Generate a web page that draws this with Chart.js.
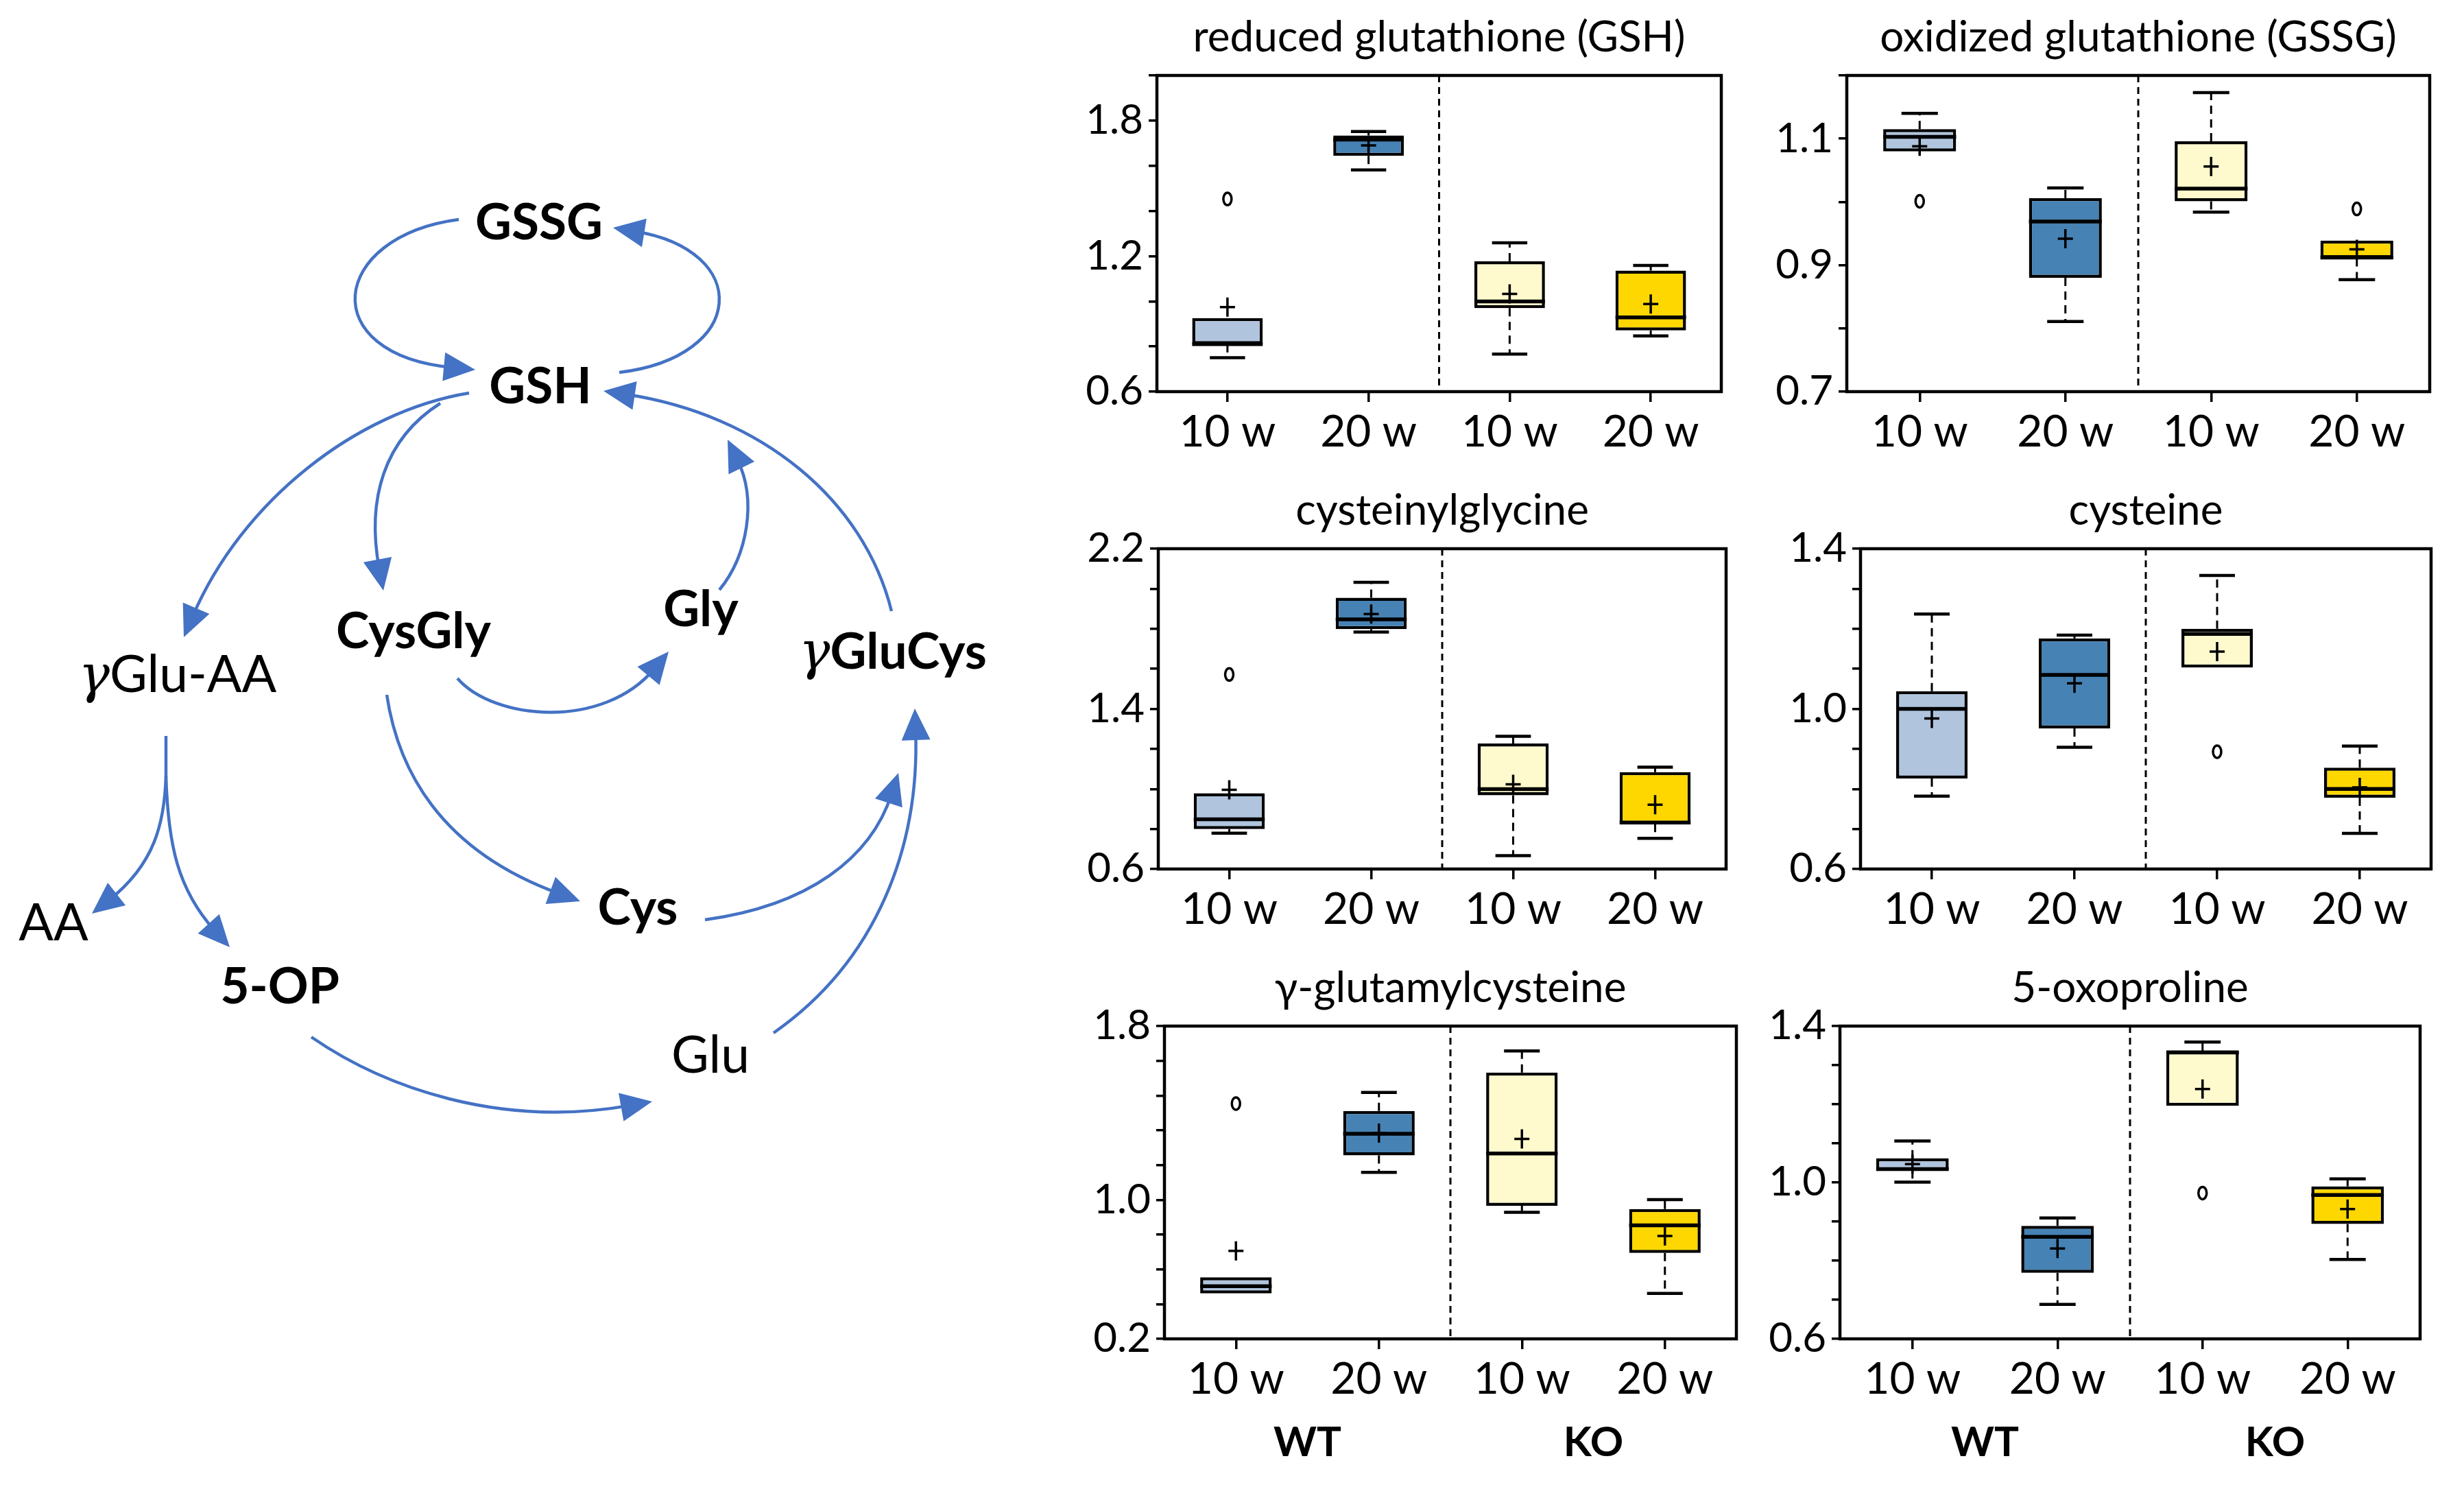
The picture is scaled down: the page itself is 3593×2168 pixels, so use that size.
<!DOCTYPE html>
<html>
<head>
<meta charset="utf-8">
<script src="https://cdn.jsdelivr.net/npm/chart.js@4.4.1/dist/chart.umd.min.js"></script>
<style>
  html, body { margin: 0; padding: 0; background: #fff; }
  body { width: 3593px; height: 2168px; position: relative; overflow: hidden; }
  canvas { position: absolute; }
</style>
</head>
<body>
<canvas id="pathway"></canvas>
<canvas id="gsh"></canvas>
<canvas id="gssg"></canvas>
<canvas id="cysgly"></canvas>
<canvas id="cys"></canvas>
<canvas id="ggc"></canvas>
<canvas id="oxo"></canvas>
<script>
// groups on the x axis
const weeks = ["10 w", "20 w", "10 w", "20 w"];
const genotypes = ["WT", "KO"];
const boxColors = ["#B0C4DE", "#4682B4", "#FFFACD", "#FFD700"];

// box stats per group: [min, q1, median, q3, max]
const gshBox = [[0.75, 0.81, 0.81, 0.926, 0.926], [1.582, 1.644, 1.716, 1.734, 1.752], [0.766, 0.97, 0.999, 1.177, 1.259], [0.847, 0.871, 0.929, 1.136, 1.159]];
const gshMean = [0.974, 1.69, 1.033, 0.988];
const gshOutliers = [[1.453], [], [], []];
const gshTicks = ["0.6", "", "", "1.2", "", "", "1.8", ""];

const gssgBox = [[1.08, 1.08, 1.103, 1.115, 1.14], [0.811, 0.88, 0.969, 1.006, 1.022], [0.984, 1.001, 1.021, 1.096, 1.173], [0.877, 0.911, 0.912, 0.939, 0.939]];
const gssgMean = [1.088, 0.942, 1.056, 0.925];
const gssgOutliers = [[1.001], [], [], [0.989]];
const gssgTicks = ["0.7", "", "0.9", "", "1.1", ""];

const cysglyBox = [[0.779, 0.8, 0.848, 0.979, 0.979], [1.784, 1.798, 1.847, 1.955, 2.032], [0.667, 0.968, 0.999, 1.227, 1.263], [0.753, 0.825, 0.832, 1.084, 1.109]];
const cysglyMean = [0.996, 1.874, 1.023, 0.921];
const cysglyOutliers = [[1.572], [], [], []];
const cysglyTicks = ["0.6", "", "", "", "1.4", "", "", "", "2.2"];

const cysBox = [[0.782, 0.826, 1.0, 1.044, 1.237], [0.904, 0.951, 1.085, 1.176, 1.184], [1.103, 1.103, 1.187, 1.2, 1.333], [0.689, 0.778, 0.8, 0.853, 0.907]];
const cysMean = [0.976, 1.064, 1.143, 0.804];
const cysOutliers = [[], [], [0.893], []];
const cysTicks = ["0.6", "", "", "", "1.0", "", "", "", "1.4"];

const ggcBox = [[0.462, 0.462, 0.503, 0.554, 0.554], [1.158, 1.256, 1.38, 1.512, 1.618], [0.928, 0.966, 1.267, 1.733, 1.857], [0.462, 0.694, 0.853, 0.947, 1.001]];
const ggcMean = [0.706, 1.384, 1.351, 0.792];
const ggcOutliers = [[1.554], [], [], []];
const ggcTicks = ["0.2", "", "", "", "1.0", "", "", "", "", "1.8"];

const oxoBox = [[1.001, 1.031, 1.034, 1.062, 1.106], [0.688, 0.769, 0.861, 0.889, 0.909], [1.196, 1.196, 1.333, 1.335, 1.359], [0.803, 0.894, 0.968, 0.99, 1.009]];
const oxoMean = [1.047, 0.831, 1.239, 0.932];
const oxoOutliers = [[], [], [0.973], []];
const oxoTicks = ["0.6", "", "", "", "1.0", "", "", "", "1.4"];

// pathway diagram nodes (diagram units = px)
const nodeNames = ["GSSG", "GSH", "γGlu-AA", "CysGly", "Gly", "γGluCys", "AA", "5-OP", "Cys", "Glu"];
const nodeX = [786, 788, 259, 603, 1022, 1302, 78, 408, 930, 1036];
const nodeY = [325, 564, 985, 921, 889, 951, 1347, 1439, 1324, 1540];
const nodeBold = [true, true, false, true, true, true, false, true, true, false];
// arrows: start, control 1, control 2, end (tip)
const arrows = [
  [669, 320, 480, 345, 490, 520, 693, 539],
  [903, 543, 1090, 520, 1065, 360, 894, 332],
  [684, 573, 520, 600, 340, 760, 268, 929],
  [642, 588, 560, 640, 540, 760, 559, 861],
  [1049, 860, 1090, 810, 1090, 700, 1061, 641],
  [1300, 891, 1260, 730, 1080, 600, 880, 570],
  [667, 989, 720, 1050, 900, 1040, 975, 950],
  [242, 1131, 240, 1200, 200, 1280, 134, 1332],
  [242, 1131, 245, 1230, 280, 1320, 335, 1381],
  [564, 1013, 580, 1120, 670, 1250, 846, 1314],
  [1028, 1341, 1180, 1320, 1280, 1220, 1310, 1127],
  [1128, 1506, 1280, 1400, 1340, 1200, 1334, 1033],
  [454, 1512, 560, 1585, 760, 1640, 951, 1606]
];
const stems = [[242, 1073, 242, 1131]];

const ARROW_BLUE = "#4472C4";

// ---------- pathway ----------
const pathwayPlugin = {
  id: "pathway",
  afterDatasetsDraw(chart) {
    const { ctx, scales: { x, y } } = chart;
    const px = v => x.getPixelForValue(v);
    const py = v => y.getPixelForValue(v);
    ctx.save();
    ctx.strokeStyle = ARROW_BLUE;
    ctx.fillStyle = ARROW_BLUE;
    ctx.lineWidth = 4.5;
    stems.forEach(s => {
      ctx.beginPath();
      ctx.moveTo(px(s[0]), py(s[1]));
      ctx.lineTo(px(s[2]), py(s[3]));
      ctx.stroke();
    });
    arrows.forEach(a => {
      const [x0, y0, c1x, c1y, c2x, c2y, x1, y1] = a.map((v, i) => i % 2 ? py(v) : px(v));
      const ang = Math.atan2(y1 - c2y, x1 - c2x);
      const len = 46, half = 21;
      const bx = x1 - Math.cos(ang) * len * 0.7, by = y1 - Math.sin(ang) * len * 0.7;
      ctx.beginPath();
      ctx.moveTo(x0, y0);
      ctx.bezierCurveTo(c1x, c1y, c2x + (bx - x1), c2y + (by - y1), bx, by);
      ctx.stroke();
      const baseX = x1 - Math.cos(ang) * len, baseY = y1 - Math.sin(ang) * len;
      ctx.beginPath();
      ctx.moveTo(x1, y1);
      ctx.lineTo(baseX + Math.sin(ang) * half, baseY - Math.cos(ang) * half);
      ctx.lineTo(baseX - Math.sin(ang) * half, baseY + Math.cos(ang) * half);
      ctx.closePath();
      ctx.fill();
    });
    ctx.fillStyle = "#000";
    ctx.textBaseline = "middle";
    nodeNames.forEach((name, i) => {
      const font = (nodeBold[i] ? "bold 73px" : "75px") + " Lato";
      const cx = px(nodeX[i]), cy = py(nodeY[i]);
      if (name.startsWith("γ")) {
        const rest = name.slice(1);
        ctx.font = "italic 76px 'DejaVu Serif'";
        const gw = ctx.measureText("γ").width;
        ctx.font = font;
        const rw = ctx.measureText(rest).width;
        const left = cx - (gw + rw) / 2;
        ctx.textAlign = "left";
        ctx.font = "italic 76px 'DejaVu Serif'";
        ctx.fillText("γ", left, cy + 4);
        ctx.font = font;
        ctx.fillText(rest, left + gw, cy);
      } else {
        ctx.textAlign = "center";
        ctx.font = font;
        ctx.fillText(name, cx, cy);
      }
    });
    ctx.restore();
  }
};

const pw = document.getElementById("pathway");
pw.width = 1530; pw.height = 2168;
pw.style.left = "0px"; pw.style.top = "0px";
new Chart(pw, {
  type: "scatter",
  data: { datasets: [{ data: nodeX.map((v, i) => ({ x: v, y: nodeY[i] })), pointRadius: 0 }] },
  options: {
    responsive: false, animation: false, devicePixelRatio: 1,
    layout: { padding: 0 },
    plugins: { legend: { display: false }, tooltip: { enabled: false } },
    scales: {
      x: { type: "linear", min: 0, max: 1530, display: false },
      y: { type: "linear", min: 0, max: 2168, reverse: true, display: false }
    }
  },
  plugins: [pathwayPlugin]
});

// ---------- box plots ----------
const boxPlugin = {
  id: "boxExtras",
  beforeDatasetsDraw(chart, args, opts) {
    const { ctx, scales: { y } } = chart;
    const bars = chart.getDatasetMeta(0).data;
    ctx.save();
    ctx.strokeStyle = "#000";
    bars.forEach((bar, i) => {
      const [lo, q1, , q3, hi] = opts.box[i];
      const capW = bar.width * 0.25;
      [[q3, hi], [q1, lo]].forEach(([from, to]) => {
        if (Math.abs(to - from) < 1e-9) return;
        ctx.lineWidth = 3;
        ctx.setLineDash([12, 8]);
        ctx.beginPath();
        ctx.moveTo(bar.x, y.getPixelForValue(from));
        ctx.lineTo(bar.x, y.getPixelForValue(to));
        ctx.stroke();
        ctx.setLineDash([]);
        ctx.lineWidth = 4.5;
        ctx.beginPath();
        ctx.moveTo(bar.x - capW, y.getPixelForValue(to));
        ctx.lineTo(bar.x + capW, y.getPixelForValue(to));
        ctx.stroke();
      });
    });
    ctx.restore();
  },
  afterDatasetsDraw(chart, args, opts) {
    const { ctx, chartArea: ca, scales: { x, y } } = chart;
    const bars = chart.getDatasetMeta(0).data;
    ctx.save();
    ctx.strokeStyle = "#000";
    bars.forEach((bar, i) => {
      const med = opts.box[i][2];
      const my = y.getPixelForValue(med);
      ctx.lineWidth = 5.5;
      ctx.beginPath();
      ctx.moveTo(bar.x - bar.width / 2, my);
      ctx.lineTo(bar.x + bar.width / 2, my);
      ctx.stroke();
      // mean
      const mny = y.getPixelForValue(opts.means[i]);
      ctx.lineWidth = 3.5;
      ctx.beginPath();
      ctx.moveTo(bar.x - 11, mny); ctx.lineTo(bar.x + 11, mny);
      ctx.moveTo(bar.x, mny - 14); ctx.lineTo(bar.x, mny + 14);
      ctx.stroke();
      // outliers
      opts.outliers[i].forEach(v => {
        ctx.beginPath();
        ctx.ellipse(bar.x, y.getPixelForValue(v), 6, 9, 0, 0, Math.PI * 2);
        ctx.stroke();
      });
    });
    // WT | KO divider
    const dx = x.getPixelForValue(1.5);
    ctx.lineWidth = 3;
    ctx.setLineDash([10, 7]);
    ctx.beginPath();
    ctx.moveTo(dx, ca.top); ctx.lineTo(dx, ca.bottom);
    ctx.stroke();
    ctx.setLineDash([]);
    // frame
    ctx.lineWidth = 4.5;
    ctx.strokeRect(ca.left, ca.top, ca.right - ca.left, ca.bottom - ca.top);
    // genotype labels
    if (opts.showGroups) {
      ctx.fillStyle = "#000";
      ctx.font = "bold 60px Lato";
      ctx.textAlign = "center";
      ctx.textBaseline = "middle";
      genotypes.forEach((g, k) => {
        const gx = (x.getPixelForValue(2 * k) + x.getPixelForValue(2 * k + 1)) / 2;
        ctx.fillText(g, gx, ca.bottom + 152);
      });
    }
    ctx.restore();
  }
};

function boxChart(id, title, box, means, outliers, tickLabels, yMin, yMax, yStep, rect, showGroups) {
  const [L, T, R, B] = rect;
  const yW = 150, titleBlock = 96, xH = 100, padRight = 20, padBottom = showGroups ? 120 : 10;
  const cv = document.getElementById(id);
  cv.width = R - L + yW + padRight;
  cv.height = titleBlock + (B - T) + xH + padBottom;
  cv.style.left = (L - yW) + "px";
  cv.style.top = (T - titleBlock) + "px";
  new Chart(cv, {
    type: "bar",
    data: {
      labels: weeks,
      datasets: [{
        data: box.map(s => [s[1], s[3]]),
        backgroundColor: boxColors,
        borderColor: "#000",
        borderWidth: 4.5,
        borderSkipped: false,
        barPercentage: 0.5,
        categoryPercentage: 1.0
      }]
    },
    options: {
      responsive: false, animation: false, devicePixelRatio: 1,
      layout: { padding: { top: 0, left: 0, right: padRight, bottom: padBottom } },
      plugins: {
        legend: { display: false },
        tooltip: { enabled: false },
        title: {
          display: true, text: title, fullSize: false, color: "#000",
          font: { family: "Lato", size: 62, weight: "normal", lineHeight: 1.2 },
          padding: { top: 4, bottom: 17.6 }
        },
        boxExtras: { box, means, outliers, showGroups }
      },
      scales: {
        x: {
          offset: true,
          grid: { offset: false, drawOnChartArea: false, tickLength: 15, lineWidth: 3.5, color: "#000" },
          border: { display: false },
          ticks: { padding: 6, color: "#000", font: { family: "Lato", size: 64 } },
          afterFit: s => { s.height = xH; }
        },
        y: {
          min: yMin, max: yMax,
          grid: { drawOnChartArea: false, tickLength: 12, lineWidth: 3.5, color: "#000" },
          border: { display: false },
          ticks: {
            stepSize: yStep, autoSkip: false, padding: 8, color: "#000",
            font: { family: "Lato", size: 60 },
            callback: v => tickLabels[Math.round((v - yMin) / yStep)] || ""
          },
          afterFit: s => { s.width = yW; }
        }
      }
    },
    plugins: [boxPlugin]
  });
}

boxChart("gsh", "reduced glutathione (GSH)", gshBox, gshMean, gshOutliers, gshTicks, 0.6, 2.0, 0.2, [1687, 110, 2510, 571], false);
boxChart("gssg", "oxidized glutathione (GSSG)", gssgBox, gssgMean, gssgOutliers, gssgTicks, 0.7, 1.2, 0.1, [2693, 110, 3543, 571], false);
boxChart("cysgly", "cysteinylglycine", cysglyBox, cysglyMean, cysglyOutliers, cysglyTicks, 0.6, 2.2, 0.2, [1689, 800, 2517, 1267], false);
boxChart("cys", "cysteine", cysBox, cysMean, cysOutliers, cysTicks, 0.6, 1.4, 0.1, [2713, 800, 3545, 1267], false);
boxChart("ggc", "γ-glutamylcysteine", ggcBox, ggcMean, ggcOutliers, ggcTicks, 0.2, 2.0, 0.2, [1698, 1496, 2532, 1952], true);
boxChart("oxo", "5-oxoproline", oxoBox, oxoMean, oxoOutliers, oxoTicks, 0.6, 1.4, 0.1, [2683, 1496, 3529, 1952], true);
</script>
</body>
</html>
